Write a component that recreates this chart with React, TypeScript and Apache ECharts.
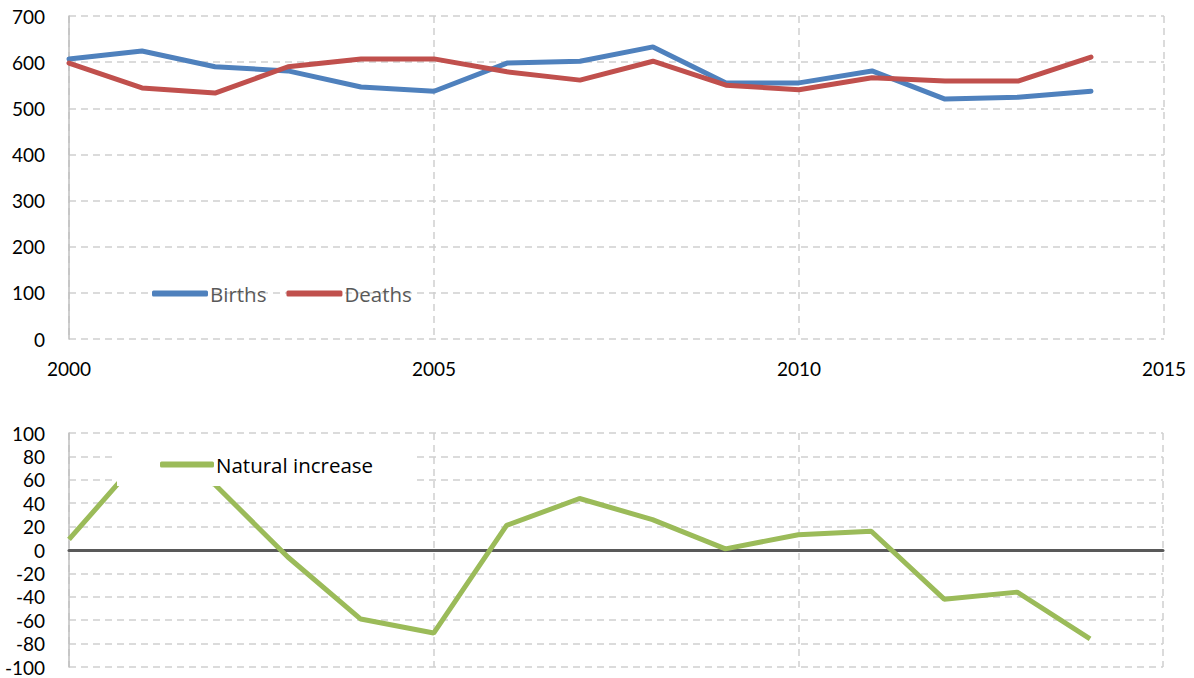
import React, { useEffect, useRef } from "react";
import * as echarts from "echarts";

const years = [2000, 2001, 2002, 2003, 2004, 2005, 2006, 2007, 2008, 2009, 2010, 2011, 2012, 2013, 2014];
const births = [607, 624, 590, 581, 546, 537, 598, 602, 633, 555, 555, 581, 520, 524, 537];
const deaths = [598, 544, 533, 590, 607, 607, 579, 561, 602, 550, 540, 566, 559, 559, 611];
const naturalIncrease = [9, 80, 56, -6, -59, -71, 21, 44, 26, 1, 13, 16, -42, -36, -76];

const FONT = "Lato, 'Open Sans', sans-serif";
const LEGEND_FONT = "'Open Sans', Lato, sans-serif";
const GRID_COLOR = "#d0d0d0";

export default function App() {
  const ref = useRef<HTMLDivElement>(null);
  useEffect(() => {
    document.body.style.margin = "0";
    const chart = echarts.init(ref.current!, undefined, { renderer: "svg" });
    const pair = (arr: number[]) => years.map((y, i) => [y, arr[i]]);
    const dashed = { show: true, lineStyle: { color: GRID_COLOR, type: [7, 5], width: 1.5 } };
    chart.setOption({
      animation: false,
      backgroundColor: "#fff",
      textStyle: { fontFamily: FONT },
      grid: [
        { left: 69, right: 30, top: 16, height: 323 },
        { left: 69, right: 31, top: 433, height: 234 },
      ],
      legend: [
        {
          data: ["Births", "Deaths"],
          left: 147,
          top: 278,
          icon: "roundRect",
          itemWidth: 56,
          itemHeight: 6,
          itemGap: 20,
          textStyle: { fontFamily: LEGEND_FONT, fontSize: 20.5, color: "#595959", padding: [0, 0, 0, -3] },
        },
        {
          data: ["Natural increase"],
          left: 117,
          top: 443,
          padding: [11, 43, 11, 43],
          backgroundColor: "#fff",
          icon: "roundRect",
          itemWidth: 54,
          itemHeight: 6,
          textStyle: { fontFamily: LEGEND_FONT, fontSize: 20.5, color: "#000", padding: [0, 0, 0, -3] },
          z: 10,
        },
      ],
      xAxis: [
        {
          type: "value",
          gridIndex: 0,
          min: 2000,
          max: 2015,
          interval: 5,
          axisLine: { show: false },
          axisTick: { show: false },
          splitLine: dashed,
          axisLabel: { fontFamily: FONT, fontSize: 19, color: "#000", margin: 20, formatter: (v: number) => String(v) },
        },
        {
          type: "value",
          gridIndex: 1,
          min: 2000,
          max: 2015,
          interval: 5,
          axisLine: { show: true, onZero: true, lineStyle: { color: "#595959", width: 3 } },
          axisTick: { show: false },
          axisLabel: { show: false },
          splitLine: dashed,
        },
      ],
      yAxis: [
        {
          type: "value",
          gridIndex: 0,
          min: 0,
          max: 700,
          interval: 100,
          axisLine: { show: true, lineStyle: { color: "#bfbfbf", width: 1.5 } },
          axisTick: { show: false },
          splitLine: dashed,
          axisLabel: { fontFamily: FONT, fontSize: 19, color: "#000", margin: 24 },
        },
        {
          type: "value",
          gridIndex: 1,
          min: -100,
          max: 100,
          interval: 20,
          axisLine: { show: true, onZero: false, lineStyle: { color: "#bfbfbf", width: 1.5 } },
          axisTick: { show: false },
          splitLine: dashed,
          axisLabel: { fontFamily: FONT, fontSize: 19, color: "#000", margin: 24 },
        },
      ],
      series: [
        {
          name: "Births",
          type: "line",
          xAxisIndex: 0,
          yAxisIndex: 0,
          data: pair(births),
          symbol: "none",
          color: "#4F81BD",
          lineStyle: { width: 5, color: "#4F81BD", cap: "round" },
        },
        {
          name: "Deaths",
          type: "line",
          xAxisIndex: 0,
          yAxisIndex: 0,
          data: pair(deaths),
          symbol: "none",
          color: "#C0504D",
          lineStyle: { width: 5, color: "#C0504D", cap: "round" },
        },
        {
          name: "Natural increase",
          type: "line",
          xAxisIndex: 1,
          yAxisIndex: 1,
          data: pair(naturalIncrease),
          symbol: "none",
          color: "#9BBB59",
          lineStyle: { width: 5, color: "#9BBB59" },
        },
      ],
    });
    return () => chart.dispose();
  }, []);
  return <div ref={ref} style={{ width: 1194, height: 678 }} />;
}
